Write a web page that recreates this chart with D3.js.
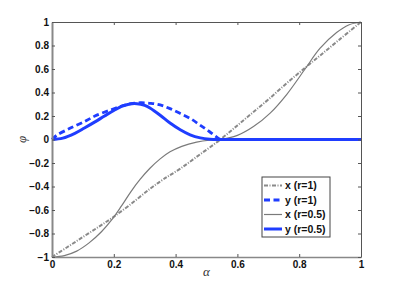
<!DOCTYPE html>
<html><head><meta charset="utf-8">
<script src="https://cdn.jsdelivr.net/npm/d3@7/dist/d3.min.js"></script>
<style>
html,body{margin:0;padding:0;background:#fff;}
svg{display:block;}
.tick text{font-family:"Liberation Sans",Arial,sans-serif;font-weight:bold;font-size:10px;fill:#111;}
</style></head>
<body>
<svg id="c" width="399" height="290"></svg>
<script>
// ---- data ----
const xTicks = [0, 0.2, 0.4, 0.6, 0.8, 1];
const xTickLabels = ["0", "0.2", "0.4", "0.6", "0.8", "1"];
const yTicks = [-1, -0.8, -0.6, -0.4, -0.2, 0, 0.2, 0.4, 0.6, 0.8, 1];
const yTickLabels = ["\u22121", "\u22120.8", "\u22120.6", "\u22120.4", "\u22120.2", "0", "0.2", "0.4", "0.6", "0.8", "1"];

const seriesNames = ["x (r=1)", "y (r=1)", "x (r=0.5)", "y (r=0.5)"];

// x (r=1): dash-dot grey
const xR1 = [[0,-1],[0.05,-0.915],[0.1,-0.83],[0.15,-0.745],[0.193,-0.67],[0.25,-0.56],[0.317,-0.42],[0.36,-0.34],[0.414,-0.25],[0.48,-0.125],[0.545,0],[0.6,0.12],[0.65,0.23],[0.7,0.34],[0.76,0.48],[0.819,0.61],[0.87,0.72],[0.93,0.85],[1,1]];
// y (r=1): dashed blue
const yR1 = [[0,0],[0.015,0.035],[0.058,0.095],[0.107,0.155],[0.139,0.2],[0.188,0.25],[0.225,0.285],[0.252,0.303],[0.285,0.313],[0.32,0.308],[0.35,0.294],[0.38,0.265],[0.414,0.223],[0.45,0.175],[0.479,0.123],[0.51,0.066],[0.545,0],[0.55,0],[0.7,0],[1,0]];
// x (r=0.5): thin solid grey
const xR05 = [[0,-1],[0.04,-0.988],[0.08,-0.95],[0.12,-0.88],[0.16,-0.785],[0.193,-0.685],[0.225,-0.565],[0.255,-0.445],[0.285,-0.34],[0.317,-0.245],[0.35,-0.165],[0.382,-0.105],[0.42,-0.058],[0.468,-0.022],[0.51,-0.005],[0.545,0],[0.6,0.035],[0.652,0.11],[0.706,0.225],[0.76,0.385],[0.819,0.6],[0.867,0.775],[0.921,0.91],[0.96,0.975],[1,1]];
// y (r=0.5): thick solid blue
const yR05 = [[0,0],[0.035,0.012],[0.074,0.053],[0.105,0.098],[0.139,0.15],[0.17,0.2],[0.2,0.247],[0.225,0.282],[0.252,0.303],[0.275,0.305],[0.3,0.29],[0.317,0.268],[0.35,0.207],[0.382,0.14],[0.415,0.083],[0.447,0.04],[0.48,0.014],[0.511,0.003],[0.545,0],[0.8,0],[1,0]];

// ---- layout ----
const L = 52, T = 22, R = 361, B = 257;
const svg = d3.select("#c");
const x = d3.scaleLinear().domain([0, 1]).range([L, R]);
const y = d3.scaleLinear().domain([-1, 1]).range([B, T]);

const blue = "#1f3dff";
const styles = [
  {stroke:"#8a8a8a", width:2, dash:"4,1.5,1,1.5"},
  {stroke:blue, width:2.8, dash:"6,3.5"},
  {stroke:"#7a7a7a", width:1.2, dash:null},
  {stroke:blue, width:3, dash:null}
];
const datasets = [xR1, yR1, xR05, yR05];

const line = d3.line().x(d => x(d[0])).y(d => y(d[1])).curve(d3.curveCatmullRom.alpha(0.5));

svg.append("defs").append("clipPath").attr("id","clp")
  .append("rect").attr("x", L-2).attr("y", T-2).attr("width", R-L+4).attr("height", B-T+4);

const g = svg.append("g").attr("clip-path","url(#clp)");
datasets.forEach((data, i) => {
  const s = styles[i];
  g.append("path").datum(data)
    .attr("d", line)
    .attr("fill","none")
    .attr("stroke", s.stroke)
    .attr("stroke-width", s.width)
    .attr("stroke-dasharray", s.dash)
    .attr("stroke-linejoin","round");
});

// ---- axes ----
const axCol = "#555";
const axB = svg.append("g").attr("transform", `translate(0,${B})`)
  .call(d3.axisBottom(x).tickValues(xTicks).tickFormat((d,i)=>xTickLabels[i]).tickSizeInner(-3).tickSizeOuter(0).tickPadding(4));
const axT = svg.append("g").attr("transform", `translate(0,${T})`)
  .call(d3.axisTop(x).tickValues(xTicks).tickFormat("").tickSizeInner(-3).tickSizeOuter(0));
const axL = svg.append("g").attr("transform", `translate(${L},0)`)
  .call(d3.axisLeft(y).tickValues(yTicks).tickFormat((d,i)=>yTickLabels[i]).tickSizeInner(-3).tickSizeOuter(0).tickPadding(3));
const axR = svg.append("g").attr("transform", `translate(${R},0)`)
  .call(d3.axisRight(y).tickValues(yTicks).tickFormat("").tickSizeInner(-3).tickSizeOuter(0));
[axB, axT, axL, axR].forEach(a => {
  a.select(".domain").attr("stroke", axCol).attr("stroke-width", 1);
  a.selectAll(".tick line").attr("stroke", axCol);
});
axL.select(".domain").attr("stroke","#888").attr("stroke-width",2);
axB.select(".domain").attr("stroke","#888").attr("stroke-width",1.5);

// axis labels
svg.append("text").attr("x", (L+R)/2).attr("y", 276)
  .attr("text-anchor","middle")
  .style("font-family","'Liberation Serif','DejaVu Serif',serif").style("font-style","italic").style("font-size","13px").style("fill","#333")
  .text("\u03B1");
svg.append("text").attr("transform", `translate(26,${(T+B)/2}) rotate(-90)`)
  .attr("text-anchor","middle")
  .style("font-family","'Liberation Serif','DejaVu Serif',serif").style("font-style","italic").style("font-size","13px").style("fill","#333")
  .text("\u03C6");

// ---- legend ----
const lg = svg.append("g");
lg.append("rect").attr("x", 262).attr("y", 177).attr("width", 68).attr("height", 60)
  .attr("fill","#fff").attr("stroke","#444").attr("stroke-width",1);
const rowY = d3.scaleLinear().domain([0,3]).range([185.5, 229]);
seriesNames.forEach((name, i) => {
  const s = styles[i];
  const yy = rowY(i);
  lg.append("line").attr("x1", 264).attr("x2", 282).attr("y1", yy).attr("y2", yy)
    .attr("stroke", s.stroke).attr("stroke-width", s.width).attr("stroke-dasharray", s.dash);
  lg.append("text").attr("x", 285).attr("y", yy).attr("dy","0.35em")
    .style("font-family","'Liberation Sans',Arial,sans-serif").style("font-weight","bold").style("font-size","10.5px").style("fill","#111")
    .text(name);
});
</script>
</body></html>
